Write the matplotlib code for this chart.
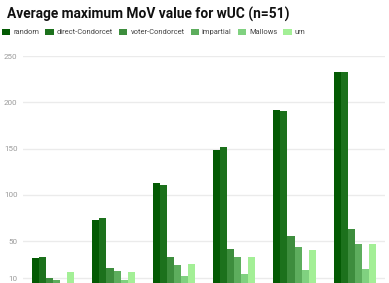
import numpy as np
import matplotlib.pyplot as plt

plt.rcParams['font.family'] = ['Roboto', 'DejaVu Sans']

# values (6 groups, no x labels visible)
groups = ["g1", "g2", "g3", "g4", "g5", "g6"]
series = ["random", "direct-Condorcet", "voter-Condorcet", "impartial", "Mallows", "urn"]
random_v = [31.3, 72.8, 113.0, 148.2, 191.7, 233.0]
direct_v = [33.1, 75.3, 110.4, 151.8, 190.6, 233.0]
voter_v = [10.0, 20.6, 32.7, 41.7, 55.0, 62.9]
impartial_v = [8.2, 18.1, 24.5, 32.4, 43.2, 46.8]
mallows_v = [4.0, 7.4, 11.7, 14.7, 18.7, 20.1]
urn_v = [16.6, 16.2, 25.3, 32.9, 40.6, 47.1]
colors = ['#035a03', '#1c711c', '#3d8d3d', '#5dad5d', '#80d180', '#a3ef96']
yticks = [10, 50, 100, 150, 200, 250]

data = [random_v, direct_v, voter_v, impartial_v, mallows_v, urn_v]

fig = plt.figure(figsize=(3.89, 2.83), dpi=100)
ax = fig.add_axes([23 / 389, 0, 362 / 389, 227 / 283])

x = np.arange(len(groups))
w = 0.7 / len(series)
for i, (name, vals) in enumerate(zip(series, data)):
    ax.bar(x - 0.35 + w * (i + 0.5), vals, width=w, color=colors[i], label=name,
           zorder=3, linewidth=0)

ax.set_xlim(-0.5, 5.5)
ax.set_ylim(4.6, 250)
ax.set_yticks(yticks)
ax.set_xticks([])
ax.grid(axis='y', color='#ebebeb', linewidth=1, zorder=0)
ax.tick_params(axis='y', length=0, labelsize=5.8, labelcolor='#9a9a9a', pad=4)
for s in ax.spines.values():
    s.set_visible(False)

fig.text(7 / 389, 1 - 14 / 283, "Average maximum MoV value for wUC (n=51)",
         fontsize=9.9, fontweight='bold', va='center', ha='left', color='#111111')

fig.legend(loc='center left', bbox_to_anchor=(2 / 389, 1 - 32 / 283), ncol=6,
           frameon=False, fontsize=5.45, handlelength=1.1, handleheight=1.0,
           handletextpad=0.4, columnspacing=0.8, labelcolor='#444444',
           borderaxespad=0, borderpad=0)

fig.savefig('out.png', dpi=100)
